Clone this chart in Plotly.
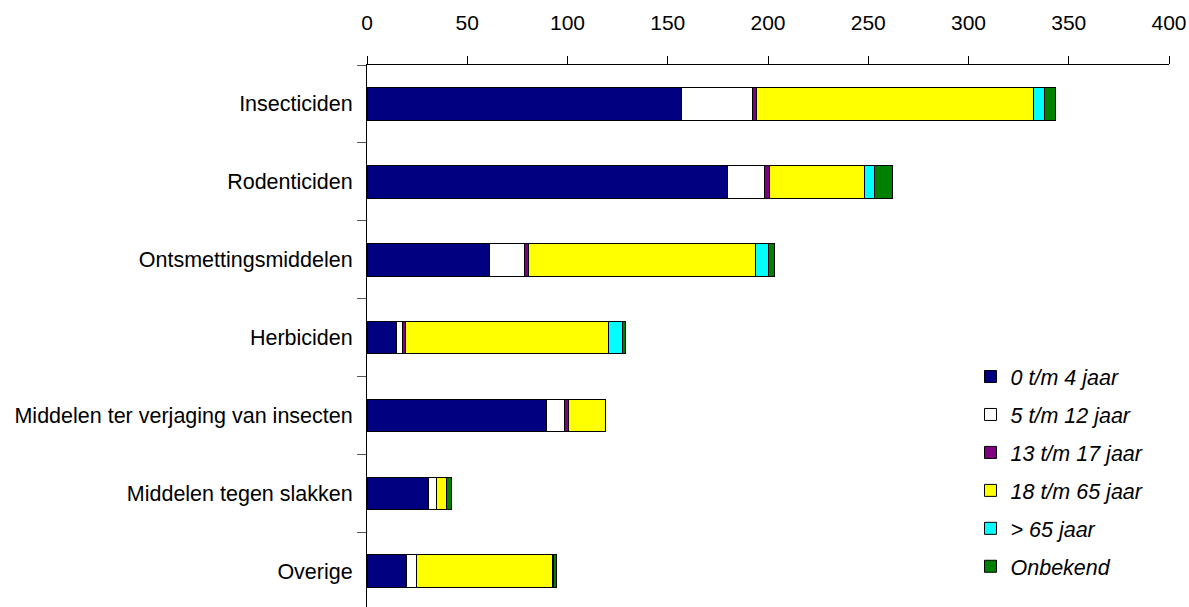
import plotly.graph_objects as go

# Product categories, top to bottom
categories = [
    "Insecticiden",
    "Rodenticiden",
    "Ontsmettingsmiddelen",
    "Herbiciden",
    "Middelen ter verjaging van insecten",
    "Middelen tegen slakken",
    "Overige",
]

# Counts per age group
age_0_4 = [157, 180, 61, 14.5, 89.5, 30.5, 19.5]
age_5_12 = [35.5, 18.5, 17.5, 3, 9, 4, 5]
age_13_17 = [2, 2, 2, 1.5, 2, 0, 0]
age_18_65 = [138, 47.5, 113.5, 101.5, 18.5, 5, 68]
age_65_plus = [5.5, 5, 6, 7, 0, 0, 0.5]
unknown = [5.5, 9, 3, 1.5, 0, 2.5, 1.5]

series = [
    ("0 t/m 4 jaar", age_0_4, "#000080"),
    ("5 t/m 12 jaar", age_5_12, "#FFFFFF"),
    ("13 t/m 17 jaar", age_13_17, "#800080"),
    ("18 t/m 65 jaar", age_18_65, "#FFFF00"),
    ("> 65 jaar", age_65_plus, "#00FFFF"),
    ("Onbekend", unknown, "#008000"),
]

x_ticks = [0, 50, 100, 150, 200, 250, 300, 350, 400]

FONT = "Liberation Sans, Arial, sans-serif"

fig = go.Figure()
for i, (name, vals, color) in enumerate(series):
    fig.add_trace(go.Bar(
        name=name,
        y=categories,
        x=vals,
        orientation="h",
        marker=dict(color=color, line=dict(color="#000000", width=1)),
        legendgroup=f"g{i}",
    ))

fig.update_layout(
    width=1189,
    height=607,
    margin=dict(l=367, r=20, t=65, b=0),
    paper_bgcolor="white",
    plot_bgcolor="white",
    barmode="stack",
    bargap=0.58,
    font=dict(family=FONT, size=21, color="#000000"),
    showlegend=True,
    legend=dict(
        x=0.7525, y=0.463, xanchor="left", yanchor="top",
        traceorder="grouped",
        tracegroupgap=7,
        font=dict(family=FONT, size=21.5, color="#000000", style="italic"),
        bgcolor="rgba(0,0,0,0)",
    ),
    xaxis=dict(
        side="top",
        range=[0, 400],
        tickvals=x_ticks,
        ticktext=[str(v) for v in x_ticks],
        ticks="outside",
        ticklen=8,
        tickcolor="#000000",
        ticklabelstandoff=18,
        showline=True,
        linecolor="#000000",
        linewidth=1,
        showgrid=False,
        zeroline=False,
        fixedrange=True,
        tickfont=dict(size=21),
    ),
    yaxis=dict(
        type="category",
        range=[6.458, -0.5],
        tickson="boundaries",
        ticks="outside",
        ticklen=9,
        tickcolor="#555555",
        ticklabelstandoff=9,
        showline=True,
        linecolor="#000000",
        linewidth=1,
        showgrid=False,
        zeroline=False,
        fixedrange=True,
        tickfont=dict(size=21.5),
    ),
)

fig.write_html("out.html")
